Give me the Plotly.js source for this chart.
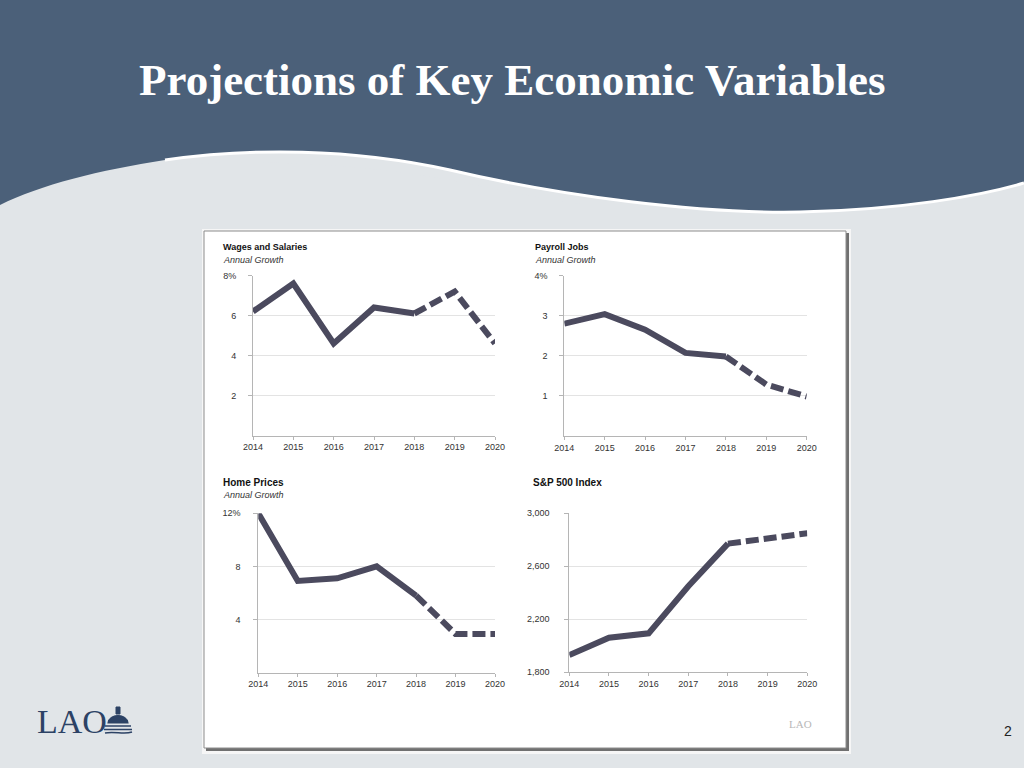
<!DOCTYPE html>
<html>
<head>
<meta charset="utf-8">
<script src="https://cdn.plot.ly/plotly-3.0.1.min.js"></script>
<style>
html,body{margin:0;padding:0;background:#e1e5e8;}
#chart{width:1024px;height:768px;}
</style>
</head>
<body>
<div id="chart"></div>
<script>
// ---- data ----
const years = [2014, 2015, 2016, 2017, 2018, 2019, 2020];
const lastActualYear = 2018;
const wages = [6.2, 7.6, 4.6, 6.4, 6.1, 7.2, 4.6];
const payroll = [2.8, 3.04, 2.65, 2.07, 1.98, 1.28, 0.98];
const homePrices = [12.0, 6.9, 7.1, 8.0, 5.8, 2.9, 2.9];
const sp500 = [1930, 2061, 2094, 2449, 2771, 2811, 2849];

const wagesTicks = [2, 4, 6, 8];
const wagesTickText = ['2', '4', '6', '8%'];
const payrollTicks = [1, 2, 3, 4];
const payrollTickText = ['1', '2', '3', '4%'];
const homeTicks = [4, 8, 12];
const homeTickText = ['4', '8', '12%'];
const spTicks = [1800, 2200, 2600, 3000];
const spTickText = ['1,800', '2,200', '2,600', '3,000'];

const panelTitles = ['Wages and Salaries', 'Payroll Jobs', 'Home Prices', 'S&P 500 Index'];
const panelSubtitles = ['Annual Growth', 'Annual Growth', 'Annual Growth', ''];
const pageTitle = 'Projections of Key Economic Variables';

// ---- helpers ----
const W = 1024, H = 768;
const fx = x => x / W;
const fy = y => 1 - y / H;
const P = (x, y) => fx(x).toFixed(5) + ',' + fy(y).toFixed(5);
const LINE = '#4b4a5e';
const cut = years.indexOf(lastActualYear);

function seriesTraces(vals, xa, ya) {
  return [
    {x: years.slice(0, cut + 1), y: vals.slice(0, cut + 1), xaxis: xa, yaxis: ya,
     type: 'scatter', mode: 'lines', line: {color: LINE, width: 6}, hoverinfo: 'skip', showlegend: false},
    {x: years.slice(cut), y: vals.slice(cut), xaxis: xa, yaxis: ya,
     type: 'scatter', mode: 'lines', line: {color: LINE, width: 6, dash: '13px,5px'}, hoverinfo: 'skip', showlegend: false}
  ];
}

const data = [].concat(
  seriesTraces(wages, 'x', 'y'),
  seriesTraces(payroll, 'x2', 'y2'),
  seriesTraces(homePrices, 'x3', 'y3'),
  seriesTraces(sp500, 'x4', 'y4')
);

const tickFont = {family: 'Liberation Sans, Arial, sans-serif', size: 9, color: '#333'};
function xAx(d, anchor) {
  return {domain: d, anchor: anchor, range: [2014, 2020], tickvals: years, ticktext: years.map(String),
    showline: true, linecolor: '#b5b5b5', linewidth: 1, ticks: 'outside', ticklen: 3, tickcolor: '#b5b5b5',
    showgrid: false, zeroline: false, tickfont: tickFont, fixedrange: true};
}
function yAx(d, anchor, range, tv, tt, standoff) {
  return {domain: d, anchor: anchor, range: range, tickvals: tv, ticktext: tt,
    showline: true, linecolor: '#b5b5b5', linewidth: 1, ticks: 'outside', ticklen: 4, tickcolor: '#b5b5b5',
    showgrid: true, gridcolor: '#e3e3e3', gridwidth: 1, zeroline: false, tickfont: tickFont,
    ticklabelstandoff: standoff, fixedrange: true};
}

const shapes = [
  // header wave
  {type: 'path', xref: 'paper', yref: 'paper', layer: 'below', line: {width: 0}, fillcolor: '#4b6079',
   path: 'M' + P(0, 0) + ' L' + P(1024, 0) + ' L' + P(1024, 183) +
     ' C' + P(980, 196) + ' ' + P(900, 210) + ' ' + P(800, 212) +
     ' C' + P(700, 214) + ' ' + P(560, 196) + ' ' + P(450, 170) +
     ' C' + P(350, 148) + ' ' + P(250, 148) + ' ' + P(165, 160) +
     ' C' + P(100, 170) + ' ' + P(40, 185) + ' ' + P(0, 205) + ' Z'},
  // light cover below sliver
  {type: 'path', xref: 'paper', yref: 'paper', layer: 'below', line: {width: 0}, fillcolor: '#e1e5e8',
   path: 'M' + P(150, 166) + ' C' + P(260, 158) + ' ' + P(360, 164) + ' ' + P(450, 180) +
     ' C' + P(500, 190) + ' ' + P(540, 198) + ' ' + P(580, 204) + ' L' + P(580, 230) + ' L' + P(150, 230) + ' Z'},
  // white swoosh
  {type: 'path', xref: 'paper', yref: 'paper', layer: 'below', line: {width: 3, color: '#ffffff'},
   path: 'M' + P(165, 160) + ' C' + P(250, 148) + ' ' + P(350, 148) + ' ' + P(450, 170) +
     ' C' + P(560, 196) + ' ' + P(700, 214) + ' ' + P(800, 212) +
     ' C' + P(900, 210) + ' ' + P(980, 196) + ' ' + P(1024, 183)},
  // panel frame: outer light, shadow, white
  {type: 'rect', xref: 'paper', yref: 'paper', layer: 'below', line: {width: 0}, fillcolor: '#f6f6f6',
   x0: fx(202), x1: fx(851), y0: fy(229), y1: fy(754)},
  {type: 'rect', xref: 'paper', yref: 'paper', layer: 'below', line: {width: 0}, fillcolor: '#707070',
   x0: fx(206), x1: fx(849), y0: fy(233), y1: fy(751)},
  {type: 'rect', xref: 'paper', yref: 'paper', layer: 'below', line: {width: 1, color: '#8c8c8c'}, fillcolor: '#ffffff',
   x0: fx(204), x1: fx(846), y0: fy(231), y1: fy(748)},
  // LAO dome icon (bottom left)
  {type: 'path', xref: 'paper', yref: 'paper', layer: 'above', line: {width: 1.2, color: '#2c4265'}, fillcolor: '#2c4265',
   path: 'M' + P(108, 723) + ' C' + P(109, 713) + ' ' + P(127, 713) + ' ' + P(128, 723) + ' Z'},
  {type: 'rect', xref: 'paper', yref: 'paper', layer: 'above', line: {width: 1, color: '#2c4265'}, fillcolor: '#2c4265',
   x0: fx(116), x1: fx(120), y0: fy(714), y1: fy(707)},
  {type: 'path', xref: 'paper', yref: 'paper', layer: 'above', line: {width: 1.5, color: '#2c4265'},
   path: 'M' + P(105, 726) + ' L' + P(131, 726) + ' M' + P(104, 729.5) + ' L' + P(132, 729.5) +
     ' M' + P(105, 733) + ' C' + P(115, 731) + ' ' + P(124, 735) + ' ' + P(132, 732)}
];

const titleFont = s => ({family: 'Liberation Sans, Arial, sans-serif', size: s, color: '#111', weight: 'bold'});
const subFont = {family: 'Liberation Sans, Arial, sans-serif', size: 9, color: '#333', style: 'italic'};
const titlePos = [[221, 247, 9], [533, 247, 9], [221, 482, 10], [531, 482, 10]];
const subPos = [[221, 260], [533, 260], [221, 495], [531, 495]];

const annotations = [
  {text: '<b>' + pageTitle + '</b>', x: fx(512), y: fy(80), xref: 'paper', yref: 'paper', showarrow: false,
   xanchor: 'center', yanchor: 'middle', font: {family: 'Liberation Serif, Times New Roman, serif', size: 45, color: '#ffffff'}},
  {text: 'LAO', x: fx(35), y: fy(721), xref: 'paper', yref: 'paper', showarrow: false, xanchor: 'left', yanchor: 'middle',
   font: {family: 'Liberation Serif, Times New Roman, serif', size: 34, color: '#2c4265'}},
  {text: 'LAO', x: fx(787), y: fy(724), xref: 'paper', yref: 'paper', showarrow: false, xanchor: 'left', yanchor: 'middle',
   font: {family: 'Liberation Serif, Times New Roman, serif', size: 11, color: '#b8b8b8'}},
  {text: '2', x: fx(1008), y: fy(731), xref: 'paper', yref: 'paper', showarrow: false, xanchor: 'center', yanchor: 'middle',
   font: {family: 'Liberation Sans, Arial, sans-serif', size: 14, color: '#222'}}
];
panelTitles.forEach((t, i) => {
  annotations.push({text: t, x: fx(titlePos[i][0]), y: fy(titlePos[i][1]), xref: 'paper', yref: 'paper', showarrow: false,
    xanchor: 'left', yanchor: 'middle', font: titleFont(titlePos[i][2])});
  if (panelSubtitles[i]) annotations.push({text: panelSubtitles[i], x: fx(subPos[i][0]), y: fy(subPos[i][1]), xref: 'paper', yref: 'paper',
    showarrow: false, xanchor: 'left', yanchor: 'middle', font: subFont});
});

const layout = {
  width: W, height: H, margin: {l: 0, r: 0, t: 0, b: 0},
  paper_bgcolor: '#e1e5e8', plot_bgcolor: 'rgba(0,0,0,0)', showlegend: false,
  xaxis: xAx([fx(253), fx(495)], 'y'),
  yaxis: yAx([fy(435.5), fy(275.5)], 'x', [0, 8], wagesTicks, wagesTickText, 10),
  xaxis2: xAx([fx(564.3), fx(806.7)], 'y2'),
  yaxis2: yAx([fy(435.7), fy(275.7)], 'x2', [0, 4], payrollTicks, payrollTickText, 10),
  xaxis3: xAx([fx(258.3), fx(495)], 'y3'),
  yaxis3: yAx([fy(672.5), fy(513.3)], 'x3', [0, 12], homeTicks, homeTickText, 11),
  xaxis4: xAx([fx(569.3), fx(807.3)], 'y4'),
  yaxis4: yAx([fy(672.3), fy(513.3)], 'x4', [1800, 3000], spTicks, spTickText, 13),
  shapes: shapes, annotations: annotations
};

Plotly.newPlot('chart', data, layout, {displayModeBar: false, staticPlot: true});
</script>
</body>
</html>
